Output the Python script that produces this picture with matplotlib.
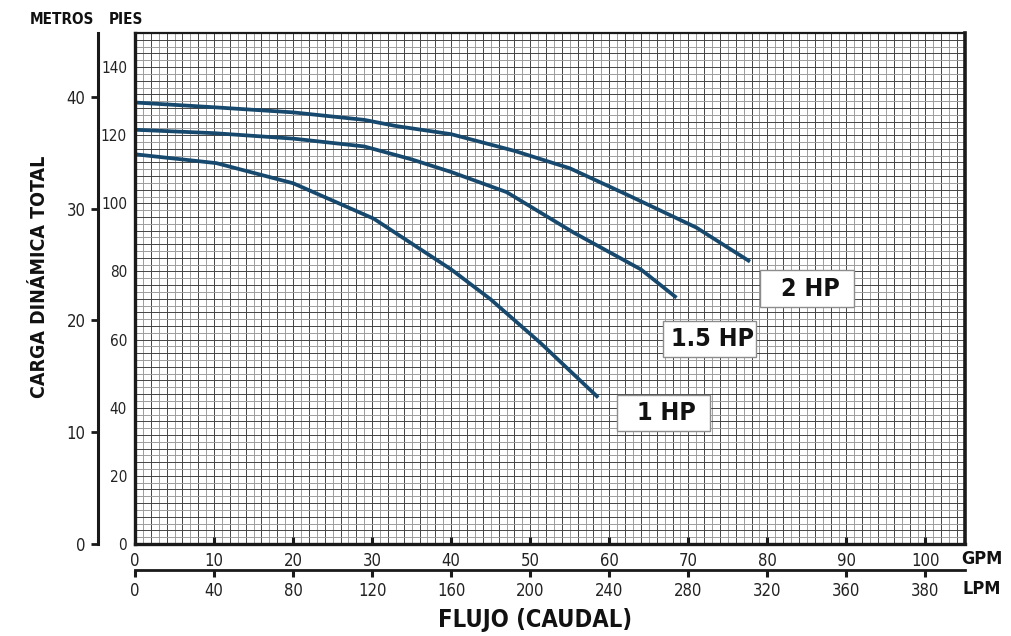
import matplotlib
matplotlib.use("Agg")
import matplotlib.pyplot as plt
from matplotlib.patches import Rectangle

plt.rcParams['font.family'] = ['DejaVu Sans']
plt.rcParams['font.stretch'] = 'condensed'

# ---- data (GPM vs feet of head) ----
gpm_2hp = [0, 10, 20, 29, 33, 40, 48, 55, 62, 71, 77.8]
ft_2hp = [129.6, 128.2, 126.7, 124.5, 122.7, 120.3, 115.4, 110.3, 102.8, 92.9, 82.9]

gpm_15hp = [0, 10, 20, 29, 35, 40, 47, 55.5, 64, 68.5]
ft_15hp = [121.6, 120.6, 119.0, 116.7, 112.9, 109.2, 103.3, 91.4, 80.6, 72.3]

gpm_1hp = [0, 10.3, 20, 30.2, 40, 45, 51.3, 58.6]
ft_1hp = [114.4, 111.8, 105.9, 95.5, 80.6, 71.8, 59.0, 43.0]

series_labels = ['2 HP', '1.5 HP', '1 HP']

gpm_ticks = [0, 10, 20, 30, 40, 50, 60, 70, 80, 90, 100]
lpm_tick_labels = ['0', '40', '80', '120', '160', '200', '240', '280', '320', '360', '380']
feet_ticks = [0, 20, 40, 60, 80, 100, 120, 140]
meter_ticks = [0, 10, 20, 30, 40]

# ---- figure ----
W, H = 1011, 636
fig = plt.figure(figsize=(W / 100, H / 100), dpi=100)
L, R, T, B = 135, 965, 33, 544
ax = fig.add_axes([L / W, 1 - B / H, (R - L) / W, (B - T) / H])
ax.set_xlim(0, 105)
ax.set_ylim(0, 150)

# graph-paper grid
for g in range(1, 105):
    ax.axvline(g, color='#444444' if g % 2 == 0 else '#9c9c9c', lw=0.7, zorder=1)
for g in range(2, 150, 2):
    ax.axhline(g, color='#444444' if g % 4 == 0 else '#9c9c9c', lw=0.7, zorder=1)

curve_color = '#16496d'
for xs, ys in [(gpm_2hp, ft_2hp), (gpm_15hp, ft_15hp), (gpm_1hp, ft_1hp)]:
    ax.plot(xs, ys, color=curve_color, lw=2.7, solid_capstyle='butt', zorder=3)

# label boxes (x0, y0, w, h in data units)
boxes = [(79.1, 69.7, 11.8, 10.6), (66.8, 55.0, 11.8, 10.6), (61.0, 33.2, 11.7, 10.6)]
for (x0, y0, w, h), lab in zip(boxes, series_labels):
    ax.add_patch(Rectangle((x0, y0), w, h, facecolor='white', edgecolor='#8c8c8c',
                           lw=1.0, zorder=4))
    ax.text(x0 + w / 2 + 0.4, y0 + h / 2, lab, ha='center', va='center',
            fontsize=18, fontweight='bold', color='#111111', zorder=5)

# spines
for s, lw in [('left', 2.4), ('bottom', 2.4), ('right', 2.6), ('top', 1.6)]:
    ax.spines[s].set_linewidth(lw)
    ax.spines[s].set_color('#1a1a1a')
    ax.spines[s].set_zorder(6)

# GPM axis (bottom)
ax.set_xticks(gpm_ticks)
ax.set_xticklabels([str(v) for v in gpm_ticks])
ax.tick_params(axis='x', direction='in', length=5, width=2.2, color='#1a1a1a',
               pad=6, labelsize=12, labelcolor='#222222')
ax.xaxis.get_major_ticks()[0].tick1line.set_visible(False)

# feet labels (no ticks)
ax.set_yticks(feet_ticks)
ax.set_yticklabels([str(v) for v in feet_ticks])
ax.tick_params(axis='y', length=0, pad=5.8, labelsize=11, labelcolor='#222222')

# LPM secondary x axis
lpm_ax = ax.secondary_xaxis((B - 570) / (B - T))
lpm_ax.set_xticks(gpm_ticks)
lpm_ax.set_xticklabels(lpm_tick_labels)
lpm_ax.spines['bottom'].set_linewidth(2.0)
lpm_ax.spines['bottom'].set_color('#1a1a1a')
lpm_ax.tick_params(axis='x', direction='out', length=5, width=2.2, color='#1a1a1a',
                   pad=4, labelsize=12, labelcolor='#222222')

# meters secondary y axis
m_ax = ax.secondary_yaxis((98 - L) / (R - L), functions=(lambda f: f / 3.281, lambda m: m * 3.281))
m_ax.set_yticks(meter_ticks)
m_ax.set_yticklabels([str(v) for v in meter_ticks])
m_ax.spines['left'].set_linewidth(2.2)
m_ax.spines['left'].set_color('#1a1a1a')
m_ax.tick_params(axis='y', direction='out', length=5, width=2.0, color='#1a1a1a',
                 pad=4, labelsize=12, labelcolor='#222222')

# texts
fig.text(94 / W, 1 - 20 / H, 'METROS', ha='right', va='center', fontsize=11,
         fontweight='bold', color='#111111')
fig.text(109 / W, 1 - 20 / H, 'PIES', ha='left', va='center', fontsize=11,
         fontweight='bold', color='#111111')
fig.text(982 / W, 1 - 559 / H, 'GPM', ha='center', va='center', fontsize=13,
         fontweight='bold', color='#111111')
fig.text(982 / W, 1 - 589 / H, 'LPM', ha='center', va='center', fontsize=13,
         fontweight='bold', color='#111111')
fig.text(535 / W, 1 - 620 / H, 'FLUJO (CAUDAL)', ha='center', va='center', fontsize=17,
         fontweight='bold', color='#111111')
fig.text(40 / W, 1 - 277 / H, 'CARGA DINÁMICA TOTAL', ha='center', va='center', fontsize=14,
         fontweight='bold', color='#111111', rotation=90)

fig.savefig('out.png', dpi=100, facecolor='white')
